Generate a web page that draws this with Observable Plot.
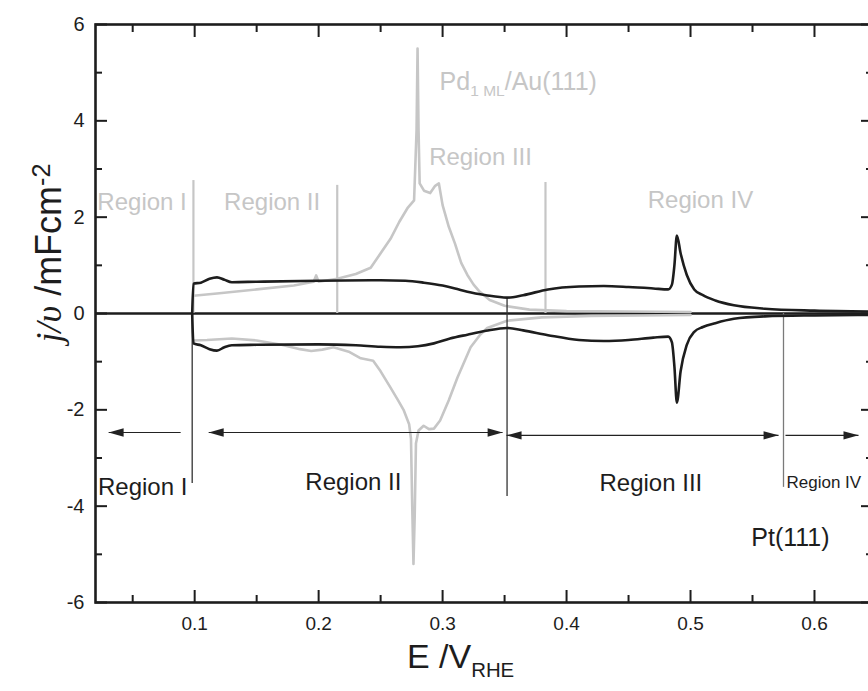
<!DOCTYPE html>
<html><head><meta charset="utf-8">
<script src="https://cdn.jsdelivr.net/npm/d3@7"></script>
<script src="https://cdn.jsdelivr.net/npm/@observablehq/plot@0.6"></script>
<style>
html,body{margin:0;padding:0;background:#fff;overflow:hidden;}
#chart svg{display:block;}
</style></head><body><div id="chart"></div>
<script>
// ---- Pt(111) CV (black) ----
const ptUpperE = [0.098,0.099,0.105,0.112,0.118,0.124,0.13,0.15,0.2,0.25,0.27,0.285,0.3,0.31,0.32,0.335,0.352,0.365,0.385,0.41,0.43,0.45,0.47,0.482,0.485,0.487,0.489,0.492,0.497,0.503,0.51,0.52,0.535,0.56,0.6,0.65];
const ptUpperJ = [0,0.62,0.64,0.72,0.75,0.7,0.65,0.66,0.68,0.69,0.68,0.64,0.58,0.52,0.45,0.38,0.33,0.38,0.5,0.56,0.57,0.55,0.52,0.5,0.6,1.0,1.62,1.25,0.8,0.5,0.38,0.27,0.17,0.1,0.06,0.04];
const ptLowerE = [0.098,0.099,0.105,0.112,0.118,0.124,0.13,0.15,0.2,0.23,0.25,0.266,0.28,0.293,0.306,0.32,0.335,0.352,0.365,0.385,0.41,0.43,0.45,0.47,0.482,0.485,0.487,0.489,0.492,0.497,0.503,0.51,0.52,0.535,0.56,0.6,0.65];
const ptLowerJ = [0,-0.62,-0.66,-0.74,-0.77,-0.7,-0.66,-0.65,-0.64,-0.66,-0.69,-0.7,-0.68,-0.62,-0.52,-0.44,-0.36,-0.3,-0.35,-0.45,-0.55,-0.57,-0.55,-0.5,-0.48,-0.6,-1.1,-1.85,-1.2,-0.65,-0.38,-0.28,-0.2,-0.11,-0.06,-0.04,-0.03];

// ---- Pd(1 ML)/Au(111) CV (grey) ----
const pdUpperE = [0.099,0.12,0.15,0.18,0.196,0.198,0.2,0.215,0.23,0.242,0.25,0.258,0.265,0.272,0.277,0.279,0.2798,0.2806,0.2815,0.285,0.29,0.294,0.297,0.3,0.305,0.31,0.315,0.32,0.325,0.33,0.338,0.35,0.37,0.4,0.45,0.5];
const pdUpperJ = [0.37,0.42,0.5,0.58,0.66,0.79,0.66,0.72,0.82,0.95,1.25,1.55,1.9,2.2,2.35,3.8,5.5,3.8,2.7,2.55,2.5,2.65,2.7,2.25,1.8,1.45,1.05,0.8,0.6,0.45,0.28,0.16,0.08,0.05,0.04,0.03];
const pdLowerE = [0.099,0.11,0.13,0.15,0.17,0.185,0.194,0.203,0.212,0.225,0.234,0.244,0.25,0.258,0.264,0.2685,0.273,0.2745,0.2755,0.2765,0.2775,0.2785,0.2806,0.2847,0.289,0.293,0.298,0.305,0.312,0.3226,0.33,0.336,0.352,0.38,0.42,0.46,0.5];
const pdLowerJ = [-0.56,-0.55,-0.52,-0.56,-0.65,-0.74,-0.78,-0.75,-0.7,-0.8,-0.93,-0.98,-1.2,-1.54,-1.8,-2.0,-2.3,-2.6,-4.0,-5.2,-4.2,-2.7,-2.43,-2.33,-2.4,-2.39,-2.22,-1.8,-1.33,-0.7,-0.45,-0.3,-0.15,-0.08,-0.05,-0.04,-0.03];

// ---- axes ----
const xMajorTicks = [0.1,0.2,0.3,0.4,0.5,0.6];
const xMinorTicks = [0.05,0.15,0.25,0.35,0.45,0.55];
const yMajorTicks = [-6,-4,-2,0,2,4,6];
const yMinorTicks = [-5,-3,-1,1,3,5];

// ---- region boundaries ----
const pdBoundaryE = [0.099,0.215,0.383];
const pdBoundaryTop = [2.76,2.66,2.72];
const ptBoundaryE = [0.098,0.352,0.575];
const ptBoundaryTop = [0,0.33,0];
const ptBoundaryBottom = [-3.53,-3.8,-3.61];

// ---- arrows (Pt regions) ----
const arrowFromE = [0.0887,0.1113,0.3516,0.5766];
const arrowToE = [0.0306,0.3484,0.571,0.6355];
const arrowJ = [-2.47,-2.47,-2.53,-2.53];
const arrowDouble = [false,true,true,false];

// ---- labels ----
const ptRegionLabels = ["Region I","Region II","Region III","Region IV"];
const ptRegionE = [0.022,0.228,0.468,0.575];
const ptRegionJ = [-3.6,-3.5,-3.52,-3.5];
const pdRegionLabels = ["Region I","Region II","Region III","Region IV"];
const pdRegionE = [0.0215,0.1625,0.3306,0.508];
const pdRegionJ = [2.3,2.3,3.24,2.35];
const pdLabel = "Pd1 ML/Au(111)";
const ptLabel = "Pt(111)";

const GREY = "#c6c6c6";
const INK = "#1d1d1d";
const SANS = "'Liberation Sans', Arial, Helvetica, sans-serif";
const NARROW = "'Liberation Sans Narrow', 'Arial Narrow', 'Liberation Sans', Arial, sans-serif";

const tbl = (E, J) => E.map((e, i) => ({E: e, j: J[i]}));
const lbl = (L, E, J) => L.map((t, i) => ({t, E: E[i], j: J[i]}));

const heads = [];
arrowFromE.forEach((f, i) => {
  const t = arrowToE[i];
  heads.push({E: t, j: arrowJ[i], rot: t > f ? 0 : 180});
  if (arrowDouble[i]) heads.push({E: f, j: arrowJ[i], rot: t > f ? 180 : 0});
});
const arrowTable = arrowFromE.map((f, i) => ({x1: f, x2: arrowToE[i], j: arrowJ[i]}));

// filled arrowhead, tip at origin, pointing right
const headSymbol = {draw(ctx) { ctx.moveTo(0, 0); ctx.lineTo(-15, -4.2); ctx.lineTo(-15, 4.2); ctx.closePath(); }};

const pdL = lbl(pdRegionLabels, pdRegionE, pdRegionJ);
const ptL = lbl(ptRegionLabels, ptRegionE, ptRegionJ);
const fmt = d => String(d);
const ax = {label: null, stroke: INK, strokeWidth: 2, tickFormat: () => ""};

const svg = Plot.plot({
  width: 868,
  height: 691,
  marginLeft: 95,
  marginRight: -4,
  marginTop: 24,
  marginBottom: 89,
  style: {fontFamily: SANS, background: "white"},
  x: {domain: [0.02, 0.6468], axis: null},
  y: {domain: [-6, 6], axis: null},
  marks: [
    Plot.ruleY([0], {stroke: INK, strokeWidth: 2.6}),
    Plot.ruleX(pdBoundaryE, {x: d => d, y1: 0, y2: (d, i) => pdBoundaryTop[i], stroke: GREY, strokeWidth: 2.2}),
    Plot.line(tbl(pdUpperE, pdUpperJ), {x: "E", y: "j", stroke: GREY, strokeWidth: 2.6}),
    Plot.line(tbl(pdLowerE, pdLowerJ), {x: "E", y: "j", stroke: GREY, strokeWidth: 2.6}),
    Plot.ruleX(ptBoundaryE, {x: d => d, y1: (d, i) => ptBoundaryTop[i], y2: (d, i) => ptBoundaryBottom[i], stroke: (d, i) => i === 2 ? "#7a7a7a" : "#333", strokeWidth: 1.3}),
    Plot.line(tbl(ptUpperE, ptUpperJ), {x: "E", y: "j", stroke: INK, strokeWidth: 2.6, curve: "monotone-x"}),
    Plot.line(tbl(ptLowerE, ptLowerJ), {x: "E", y: "j", stroke: INK, strokeWidth: 2.6, curve: "monotone-x"}),
    Plot.link(arrowTable, {x1: "x1", x2: "x2", y1: "j", y2: "j", stroke: "#222", strokeWidth: 1.1}),
    Plot.dot(heads, {x: "E", y: "j", symbol: headSymbol, rotate: "rot", fill: "#222", stroke: "none", r: 5}),
    // grey labels
    Plot.text(pdL.slice(0, 1), {x: "E", y: "j", text: "t", textAnchor: "start", fill: GREY, fontSize: 24}),
    Plot.text(pdL.slice(1), {x: "E", y: "j", text: "t", textAnchor: "middle", fill: GREY, fontSize: 24}),
    Plot.text([pdLabel], {x: 0.2976, y: 4.8, text: d => d, textAnchor: "start", fill: GREY, fontSize: 25}),
    // black labels
    Plot.text(ptL.slice(0, 1), {x: "E", y: "j", text: "t", textAnchor: "start", fill: INK, fontSize: 24}),
    Plot.text(ptL.slice(1, 3), {x: "E", y: "j", text: "t", textAnchor: "middle", fill: INK, fontSize: 24}),
    Plot.text(ptL.slice(3), {x: "E", y: "j", text: "t", textAnchor: "start", fill: INK, fontSize: 17, dx: 3}),
    Plot.text([ptLabel], {x: 0.5806, y: -4.67, text: d => d, fill: INK, fontSize: 25}),
    // frame & axes
    Plot.frame({stroke: INK, strokeWidth: 2.6}),
    Plot.axisX(xMajorTicks, {anchor: "bottom", label: null, tickSize: 0, tickPadding: 14, fontSize: 19, fontFamily: NARROW, fill: INK, tickFormat: fmt}),
    Plot.axisX(xMajorTicks, {...ax, anchor: "bottom", tickSize: -12}),
    Plot.axisX(xMinorTicks, {...ax, anchor: "bottom", tickSize: -7}),
    Plot.axisX(xMajorTicks, {...ax, anchor: "top", tickSize: -12}),
    Plot.axisX(xMinorTicks, {...ax, anchor: "top", tickSize: -7}),
    Plot.axisY(yMajorTicks, {anchor: "left", label: null, tickSize: 0, tickPadding: 11, fontSize: 20, fill: INK, tickFormat: fmt}),
    Plot.axisY(yMajorTicks, {...ax, anchor: "left", tickSize: -12}),
    Plot.axisY(yMinorTicks, {...ax, anchor: "left", tickSize: -7}),
    Plot.axisY(yMajorTicks, {...ax, anchor: "right", tickSize: -12}),
    Plot.axisY(yMinorTicks, {...ax, anchor: "right", tickSize: -7}),
    // axis titles
    Plot.text(["E /VRHE"], {frameAnchor: "bottom", x: 0.3145, dy: 65, text: d => d, fontSize: 34, fontFamily: NARROW, fill: INK}),
    Plot.text(["j/υ /mFcm-2"], {frameAnchor: "left", y: -0.6, dx: -46, rotate: -90, text: d => d, fontSize: 36, fill: INK})
  ]
});

// rich text (sub/superscripts, italics) as real tspans
d3.select(svg).selectAll("text").each(function () {
  const t = this.textContent;
  const sel = d3.select(this);
  if (t === pdLabel) {
    sel.text("");
    sel.append("tspan").text("Pd");
    sel.append("tspan").attr("dy", "0.35em").attr("font-size", "0.62em").text("1 ML");
    sel.append("tspan").attr("dy", "-0.22em").text("/Au(111)");
  } else if (t === "E /VRHE") {
    sel.text("");
    sel.append("tspan").text("E /V");
    sel.append("tspan").attr("dy", "0.45em").attr("font-size", "0.6em").text("RHE");
  } else if (t === "j/υ /mFcm-2") {
    sel.text("");
    sel.append("tspan").attr("font-style", "italic").attr("font-family", "'Liberation Serif', 'DejaVu Serif', serif").text("j/υ");
    sel.append("tspan").text(" /mFcm");
    sel.append("tspan").attr("dy", "-0.45em").attr("font-size", "0.7em").text("-2");
  }
});

document.getElementById("chart").appendChild(svg);
</script></body></html>
